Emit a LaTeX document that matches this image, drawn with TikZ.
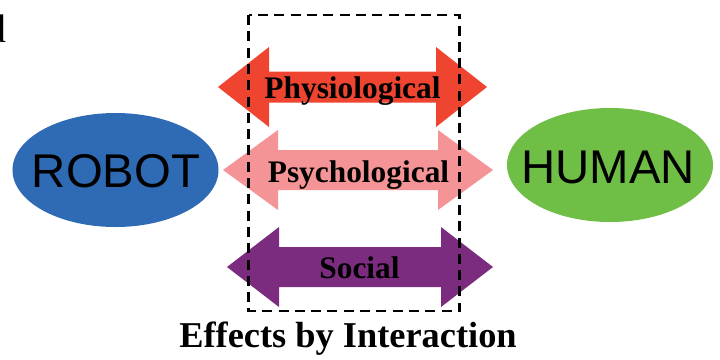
\documentclass[tikz,border=0pt]{standalone}
\usepackage{fontspec}
\setmainfont{Liberation Serif}
\setsansfont{Liberation Sans}
\usetikzlibrary{shapes.geometric}
\definecolor{robotblue}{RGB}{46,107,180}
\definecolor{humangreen}{RGB}{111,190,69}
\definecolor{physred}{RGB}{238,68,48}
\definecolor{psychpink}{RGB}{244,148,150}
\definecolor{socialpurple}{RGB}{123,44,126}
% block arrow: colour, left tip, right tip, middle y, half head, half shaft, head length
\newcommand{\dblarrow}[7]{%
    \fill[#1] (#2,#4) -- (#2+#7,#4-#5) -- (#2+#7,#4-#6) -- (#3-#7,#4-#6)
        -- (#3-#7,#4-#5) -- (#3,#4) -- (#3-#7,#4+#5) -- (#3-#7,#4+#6)
        -- (#2+#7,#4+#6) -- (#2+#7,#4+#5) -- cycle;}

\begin{document}
\begin{tikzpicture}[x=1bp, y=-1bp,
    party/.style={ellipse, inner sep=0pt, minimum width=206bp, minimum height=114bp},
    partytext/.style={anchor=base, inner sep=0pt, font=\sffamily\fontsize{47.5}{47.5}\selectfont},
    effect/.style={anchor=base, inner sep=0pt, font=\bfseries\fontsize{31.5}{31.5}\selectfont}]
    \useasboundingbox (0,0) rectangle (720,359);
    \node[anchor=base east, inner sep=0pt, font=\fontsize{40}{40}\selectfont](frag) at (7,42) {d};
    \node[party, fill=robotblue](robot)     at (115.5,170) {};
    \node[party, fill=humangreen](human)    at (610,165) {};
    % Arrows
    \dblarrow{physred}{218}{487}{87}{40}{15.5}{51}
    \dblarrow{psychpink}{223}{493}{170}{40}{20}{55}
    \dblarrow{socialpurple}{227}{493}{267}{40}{20}{52}
    \draw[line width=2.8bp, dash pattern=on 10bp off 6.3bp] (248.5,15) rectangle (459.5,311);
    % Labels
    \node[partytext](robottext) at (116,187) {ROBOT};
    \node[partytext](humantext) at (608,183) {HUMAN};
    \node[effect](phys)     at (352.5,98) {Physiological};
    \node[effect](psych)    at (358.5,182) {Psychological};
    \node[effect](social)   at (359.5,278) {Social};
    \node[anchor=base, inner sep=0pt, font=\bfseries\fontsize{36.5}{36.5}\selectfont](title) at (348,347) {Effects by Interaction};
\end{tikzpicture}
\end{document}
